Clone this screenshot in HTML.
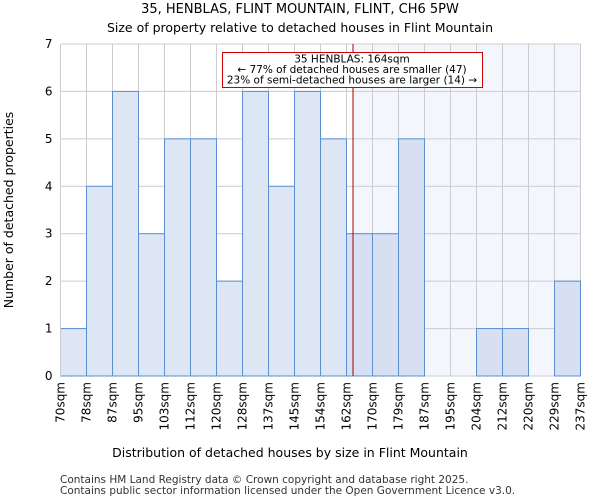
<!DOCTYPE html>
<html><head><meta charset="utf-8"><style>
body{margin:0;background:#fff;width:600px;height:500px;overflow:hidden;font-family:"DejaVu Sans","Liberation Sans",sans-serif}
</style></head><body>
<svg id="chart" width="600" height="500" xmlns="http://www.w3.org/2000/svg" font-family="DejaVu Sans, Liberation Sans, sans-serif">
<text x="300" y="13" text-anchor="middle" font-size="13">35, HENBLAS, FLINT MOUNTAIN, FLINT, CH6 5PW</text>
<text x="300" y="32" text-anchor="middle" font-size="12.5">Size of property relative to detached houses in Flint Mountain</text>
<g id="plot"></g>
<text x="290" y="457" text-anchor="middle" font-size="12.5">Distribution of detached houses by size in Flint Mountain</text>
<text transform="translate(13,210) rotate(-90)" text-anchor="middle" font-size="12.5">Number of detached properties</text>
<text x="60" y="483" font-size="10.5" fill="#333">Contains HM Land Registry data © Crown copyright and database right 2025.</text>
<text x="60" y="494" font-size="10.5" fill="#333">Contains public sector information licensed under the Open Government Licence v3.0.</text>
</svg>
<script>
const categories=["70sqm","78sqm","87sqm","95sqm","103sqm","112sqm","120sqm","128sqm","137sqm","145sqm","154sqm","162sqm","170sqm","179sqm","187sqm","195sqm","204sqm","212sqm","220sqm","229sqm","237sqm"];
const counts=[1,4,6,3,5,5,2,6,4,6,5,3,3,5,0,0,1,1,0,2];
const yTicks=[0,1,2,3,4,5,6,7];
const markerIndex=11.25;
const NS="http://www.w3.org/2000/svg";
const g=document.getElementById("plot");
const X0=60.5,X1=580.5,Y0=376,Y1=44,YMAX=7,N=counts.length;
const bw=(X1-X0)/N;
const xs=i=>X0+i*bw, ys=v=>Y0-(v/YMAX)*(Y0-Y1);
function mk(t,a){const e=document.createElementNS(NS,t);for(const k in a)e.setAttribute(k,a[k]);g.appendChild(e);return e;}
const mx=xs(markerIndex);
let e=mk("rect",{x:mx,y:Y1,width:X1-mx,height:Y0-Y1,fill:"#f3f6fd"});


for(let i=0;i<=N;i++){e=mk("line",{x1:xs(i),x2:xs(i),y1:Y1,y2:Y0,stroke:"#cccccc"});

}
yTicks.forEach(t=>{e=mk("line",{x1:X0,x2:X1,y1:ys(t),y2:ys(t),stroke:"#cccccc"});


e=mk("text",{x:X0-8,y:ys(t)+4,"text-anchor":"end","font-size":"12"});e.textContent=t;

});
counts.forEach((v,i)=>{if(v<=0)return;e=mk("rect",{x:xs(i),y:ys(v),width:bw,height:Y0-ys(v),fill:(i+1>markerIndex?"#d6e0f2":"#dce6f4"),stroke:"#5b8fd0","stroke-width":"1"});

});
categories.forEach((c,i)=>{const x=xs(i);e=mk("text",{transform:`translate(${x+4},382) rotate(-90)`,"text-anchor":"end","font-size":"12"});e.textContent=c;

});
e=mk("line",{x1:X0,x2:X0,y1:Y1,y2:Y0,stroke:"#cccccc"});


e=mk("line",{x1:mx,x2:mx,y1:Y1,y2:Y0,stroke:"#aa0000","stroke-width":"1"});


e=mk("rect",{x:222.5,y:52.5,width:260,height:35,fill:"#fff",stroke:"#cc0000","stroke-width":"1"});


["35 HENBLAS: 164sqm","← 77% of detached houses are smaller (47)","23% of semi-detached houses are larger (14) →"].forEach((s,k)=>{e=mk("text",{x:352,y:62.5+k*10.5,"text-anchor":"middle","font-size":"10.5"});e.textContent=s;

});
</script>
</body></html>
